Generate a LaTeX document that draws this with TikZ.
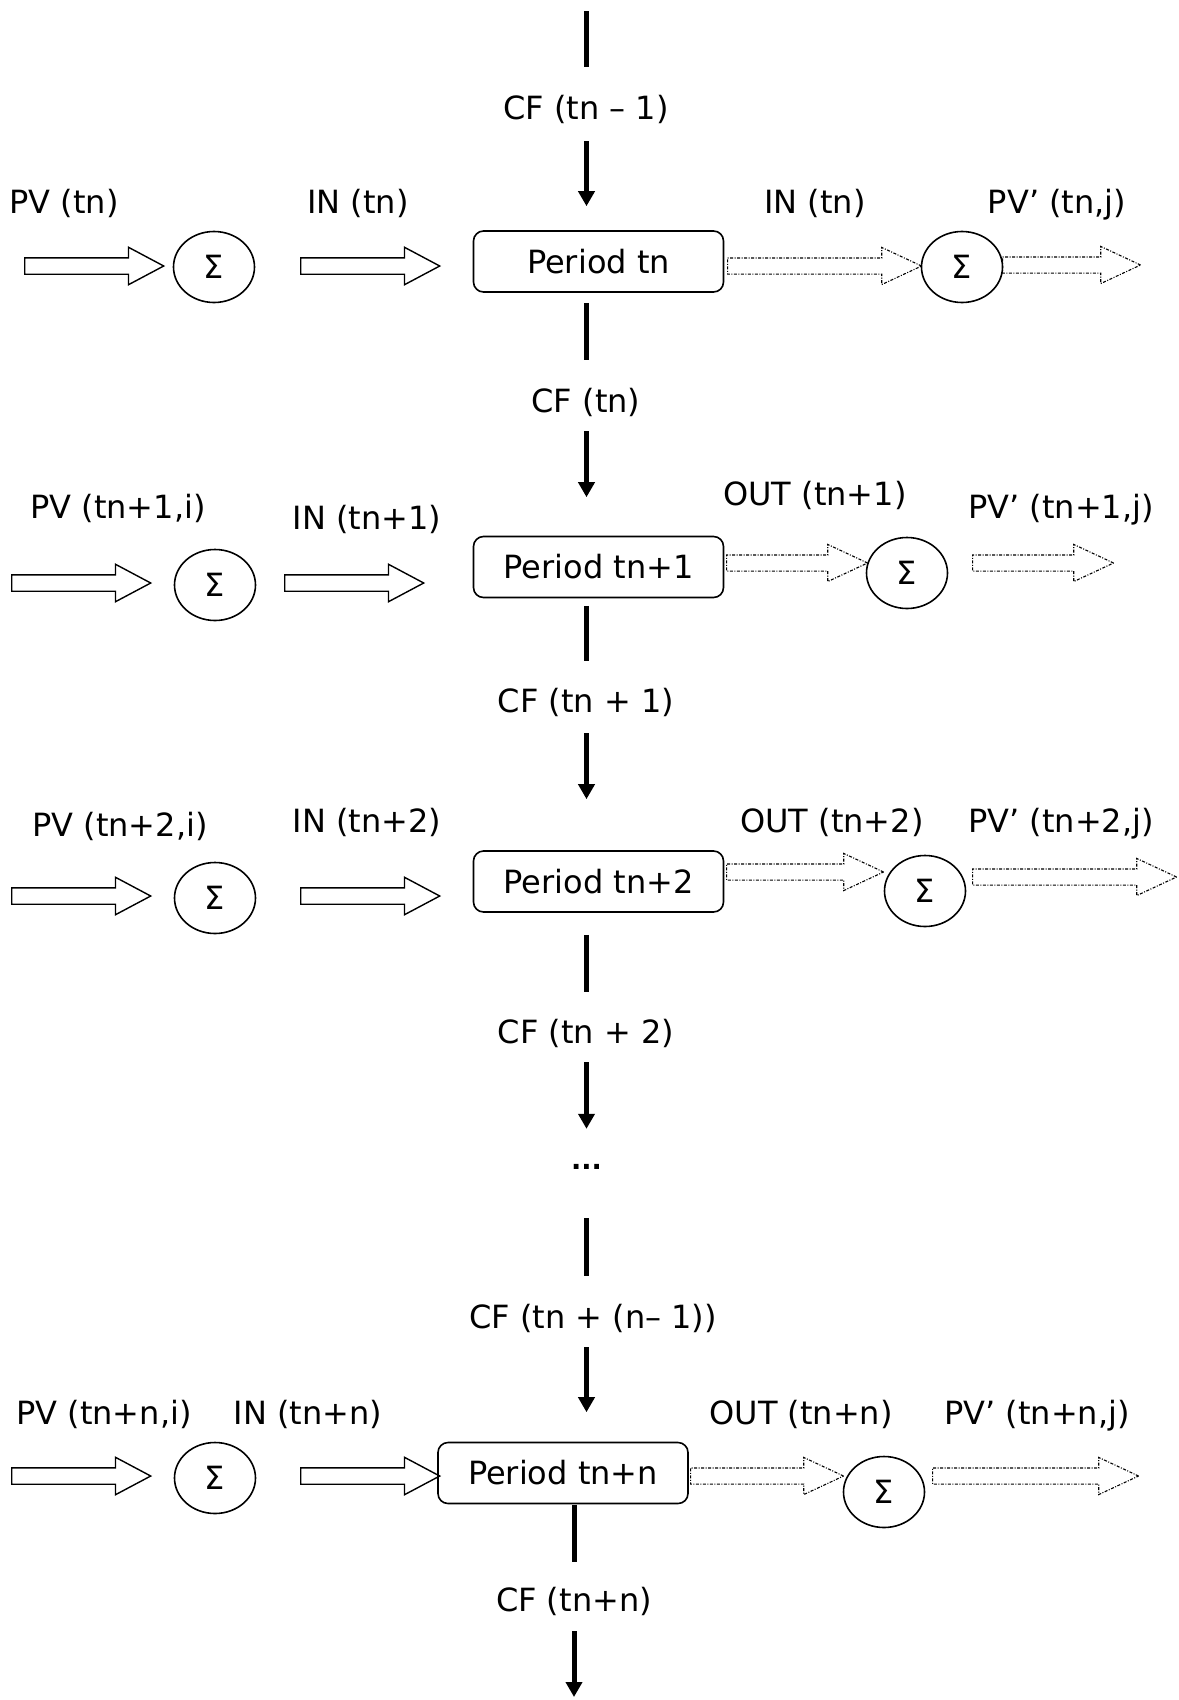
\documentclass[tikz,border=0pt]{standalone}
\usepackage{fontspec}
\setmainfont{DejaVu Sans}
\usetikzlibrary{shapes.geometric,shapes.arrows,arrows.meta}
\tikzset{
  lbl/.style={inner sep=0pt, text height=24pt, text depth=4pt, font=\fontsize{32}{38}\selectfont},
  period/.style={draw, rounded corners=10pt, minimum width=250pt, minimum height=61pt, line width=1.6pt, inner sep=0pt, font=\fontsize{32}{38}\selectfont},
  sum/.style={draw, ellipse, minimum width=81pt, minimum height=71pt, line width=1.6pt, inner sep=0pt, font=\fontsize{32}{38}\selectfont},
  harrow/.style={single arrow, draw, line width=1.4pt, inner sep=0pt, text height=15pt, text depth=0pt, single arrow head extend=10.5pt, single arrow tip angle=56, minimum height=139pt, anchor=tail},
  darrow/.style={harrow, line width=1.1pt, dash pattern=on 3pt off 1.5pt on 1pt off 1.5pt, single arrow tip angle=50},
  cfline/.style={line width=5pt},
  cfarrow/.style={line width=5pt, -{Triangle[length=15pt,width=16pt]}},
}
\begin{document}
\begin{tikzpicture}[x=1pt,y=-1pt]
\useasboundingbox (0,0) rectangle (1178,1700);
\coordinate (spine) at (586.5,0);
\coordinate (spineb) at (574,0);
\coordinate (top) at (586.5,11);
\coordinate (bottom) at (574,1697);

% ---------- vertical chain labels ----------
\node[lbl] (cf0) at (586,109) {CF (tn – 1)};
\node[lbl] (cf1) at (586,402) {CF (tn)};
\node[lbl] (cf2) at (586,702) {CF (tn + 1)};
\node[lbl] (cf3) at (586,1033) {CF (tn + 2)};
\node[inner sep=0pt, text height=6pt, text depth=0pt, anchor=base, font=\fontsize{27}{30}\selectfont\bfseries] (dots) at (586.5,1169) {...};
\node[lbl] (cf4) at (593,1318) {CF (tn + (n– 1))};
\node[lbl] (cf5) at (574,1601) {CF (tn+n)};

% ---------- period boxes ----------
\node[period] (p1) at (598.5,261.5) {Period tn};
\node[period] (p2) at (598.5,567) {Period tn+1};
\node[period] (p3) at (598.5,881.5) {Period tn+2};
\node[period] (p4) at (563,1473) {Period tn+n};

% ---------- sums ----------
\node[sum] (sl1) at (214,267) {Σ};
\node[sum] (sl2) at (215,585) {Σ};
\node[sum] (sl3) at (215,898) {Σ};
\node[sum] (sl4) at (215,1478) {Σ};
\node[sum] (sr1) at (962,267) {Σ};
\node[sum] (sr2) at (907,573) {Σ};
\node[sum] (sr3) at (925,891) {Σ};
\node[sum] (sr4) at (884,1492) {Σ};

% ---------- hollow arrows (left), placed by their tails ----------
\node[harrow] (al1a) at (24,266) {};
\node[harrow] (al1b) at (300,266) {};
\node[harrow] (al2a) at (11,583) {};
\node[harrow] (al2b) at (284,583) {};
\node[harrow] (al3a) at (11,896) {};
\node[harrow] (al3b) at (300,896) {};
\node[harrow] (al4a) at (11,1476) {};
\node[harrow] (al4b) at (300,1476) {};

% ---------- dotted hollow arrows (right), placed by their tails ----------
\node[darrow, minimum height=194pt] (ar1a) at (727,266) {};
\node[darrow, minimum height=138pt] (ar1b) at (1002,265) {};
\node[darrow, minimum height=141pt] (ar2a) at (726,563) {};
\node[darrow, minimum height=141pt] (ar2b) at (972,563) {};
\node[darrow, minimum height=157pt] (ar3a) at (726,872) {};
\node[darrow, minimum height=204pt] (ar3b) at (972,877) {};
\node[darrow, minimum height=153pt] (ar4a) at (690,1476) {};
\node[darrow, minimum height=206pt] (ar4b) at (932,1476) {};

% ---------- row labels ----------
\node[lbl] (lpv1) at (64,203) {PV (tn)};
\node[lbl] (lin1) at (358,203) {IN (tn)};
\node[lbl] (rin1) at (815,203) {IN (tn)};
\node[lbl] (rpv1) at (1057,203) {PV’ (tn,j)};

\node[lbl] (lpv2) at (118,508) {PV (tn+1,i)};
\node[lbl] (lin2) at (367,519) {IN (tn+1)};
\node[lbl] (rout2) at (815,495) {OUT (tn+1)};
\node[lbl] (rpv2) at (1061,508) {PV’ (tn+1,j)};

\node[lbl] (lpv3) at (120,826) {PV (tn+2,i)};
\node[lbl] (lin3) at (367,822) {IN (tn+2)};
\node[lbl] (rout3) at (832,822) {OUT (tn+2)};
\node[lbl] (rpv3) at (1061,822) {PV’ (tn+2,j)};

\node[lbl] (lpv4) at (104,1414) {PV (tn+n,i)};
\node[lbl] (lin4) at (308,1414) {IN (tn+n)};
\node[lbl] (rout4) at (801,1414) {OUT (tn+n)};
\node[lbl] (rpv4) at (1037,1414) {PV’ (tn+n,j)};

% ---------- vertical cash-flow chain ----------
\draw[cfline, shorten >=28pt] (top) -- (cf0.north -| spine);
\draw[cfarrow, shorten <=18pt, shorten >=24pt] (cf0.south -| spine) -- (p1.north -| spine);
\draw[cfline, shorten <=10pt, shorten >=28pt] (p1.south -| spine) -- (cf1.north -| spine);
\draw[cfarrow, shorten <=15pt, shorten >=38.5pt] (cf1.south -| spine) -- (p2.north -| spine);
\draw[cfline, shorten <=7.5pt, shorten >=27pt] (p2.south -| spine) -- (cf2.north -| spine);
\draw[cfarrow, shorten <=17pt, shorten >=51pt] (cf2.south -| spine) -- (p3.north -| spine);
\draw[cfline, shorten <=22pt, shorten >=27pt] (p3.south -| spine) -- (cf3.north -| spine);
\draw[cfarrow, shorten <=15pt, shorten >=34pt] (cf3.south -| spine) -- (dots.north -| spine);
\draw[cfline, shorten <=49pt, shorten >=28pt] (dots.south -| spine) -- (cf4.north -| spine);
\draw[cfarrow, shorten <=15pt, shorten >=29.5pt] (cf4.south -| spine) -- (p4.north -| spine);
\draw[cfline, shorten <=0.5pt, shorten >=25pt] (p4.south -| spineb) -- (cf5.north -| spineb);
\draw[cfarrow, shorten <=16pt] (cf5.south -| spineb) -- (bottom);
\end{tikzpicture}
\end{document}
